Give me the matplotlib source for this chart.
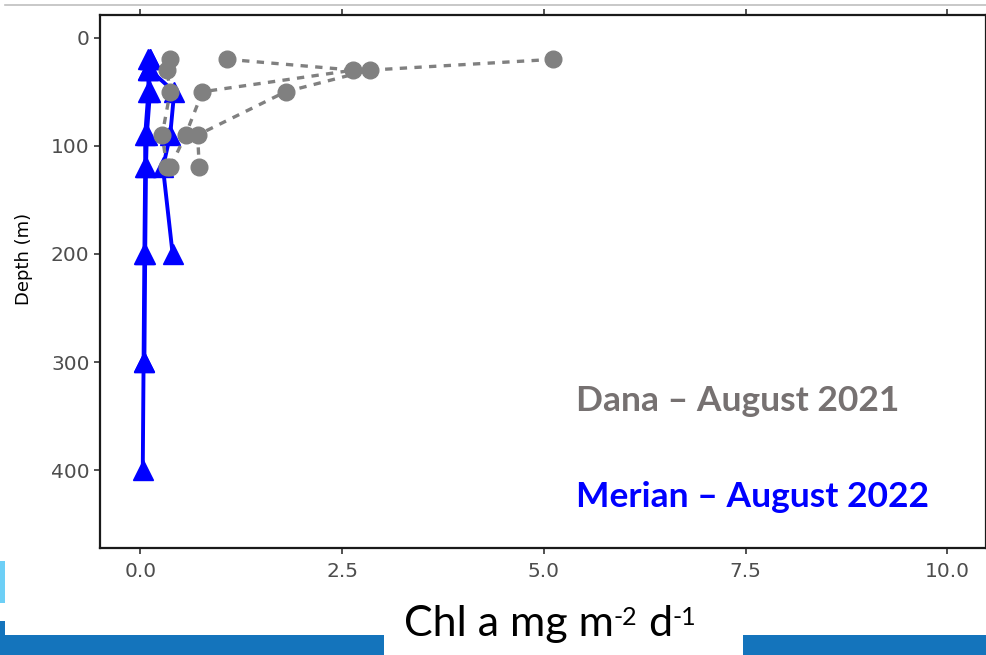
import matplotlib
matplotlib.use("Agg")
import matplotlib.pyplot as plt
from matplotlib.patches import Rectangle
from matplotlib.lines import Line2D

# Dana - August 2021 (3 stations)
dana_depth = [20, 30, 50, 90, 120]
dana_s1 = [0.37, 0.33, 0.37, 0.27, 0.33]
dana_s2 = [1.08, 2.64, 0.77, 0.56, 0.37]
dana_s3 = [5.12, 2.84, 1.80, 0.71, 0.73]

# Merian - August 2022 (3 stations)
merian_depth_a = [20, 30, 50, 90, 120, 200, 300, 400]
merian_a = [0.10, 0.10, 0.10, 0.06, 0.06, 0.05, 0.04, 0.03]
merian_depth_b = [20, 30, 50, 90, 120, 200, 300]
merian_b = [0.12, 0.10, 0.12, 0.08, 0.07, 0.06, 0.05]
merian_depth_c = [20, 30, 50, 90, 120, 200]
merian_c = [0.12, 0.12, 0.42, 0.37, 0.28, 0.40]

x_ticks = [0.0, 2.5, 5.0, 7.5, 10.0]
y_ticks = [0, 100, 200, 300, 400]

gray = "#808080"
blue = "#0000FF"

fig = plt.figure(figsize=(9.87, 6.55), dpi=100)
ax = fig.add_axes([100/987, 107/655, 886/987, 533/655])

for xs, ds in [(merian_a, merian_depth_a), (merian_b, merian_depth_b), (merian_c, merian_depth_c)]:
    ax.plot(xs, ds, color=blue, lw=2.8, marker="^", ms=15, zorder=3)

for xs in [dana_s1, dana_s2, dana_s3]:
    ax.plot(xs, dana_depth, color=gray, lw=2.4, ls=(0, (2.2, 2.2)), marker="o", ms=12, zorder=4)

ax.set_xlim(-0.5, 10.48)
ax.set_ylim(472, -21)
ax.set_xticks(x_ticks)
ax.set_xticklabels(["%.1f" % v for v in x_ticks])
ax.set_yticks(y_ticks)
for s in ax.spines.values():
    s.set_linewidth(1.6)
    s.set_color("#1a1a1a")
ax.tick_params(axis="both", length=4, width=1.2, color="#333333",
               labelsize=14.5, labelcolor="#4D4D4D")
ax.tick_params(axis="x", top=True, pad=6)
ax.set_ylabel("Depth (m)", fontsize=13, color="black")
ax.yaxis.set_label_coords(-0.076, 0.542)

ax.text(0.537, 0.276, "Dana \u2013 August 2021", transform=ax.transAxes,
        fontsize=25.5, fontweight="bold", family="Lato", color="#767171", va="center")
ax.text(0.537, 0.096, "Merian \u2013 August 2022", transform=ax.transAxes,
        fontsize=25.5, fontweight="bold", family="Lato", color=blue, va="center")

# slide decorations
fig.add_artist(Line2D([5/987, 1], [650/655, 650/655], color="#BFBFBF", lw=1.2))
fig.add_artist(Rectangle((0, 0), 384/987, 20/655, color="#1474BC", lw=0))
fig.add_artist(Rectangle((743/987, 0), 244/987, 20/655, color="#1474BC", lw=0))
fig.add_artist(Rectangle((0, 20/655), 5/987, 14/655, color="#1474BC", lw=0))
fig.add_artist(Rectangle((0, 52/655), 5/987, 42/655, color="#6DCFF6", lw=0))

# x label built from pieces (hyphen superscripts, as on the slide)
renderer = fig.canvas.get_renderer()
pieces = [("Chl a mg m", 31, 0), ("-2", 18, 11), (" d", 31, 0), ("-1", 18, 11)]
x = 404
base = 19
for txt, size, rise in pieces:
    t = fig.text(x/987, (base + rise)/655, txt, fontsize=size, family="Lato",
                 ha="left", va="baseline", color="black")
    x += t.get_window_extent(renderer).width

fig.savefig("out.png", dpi=100)
